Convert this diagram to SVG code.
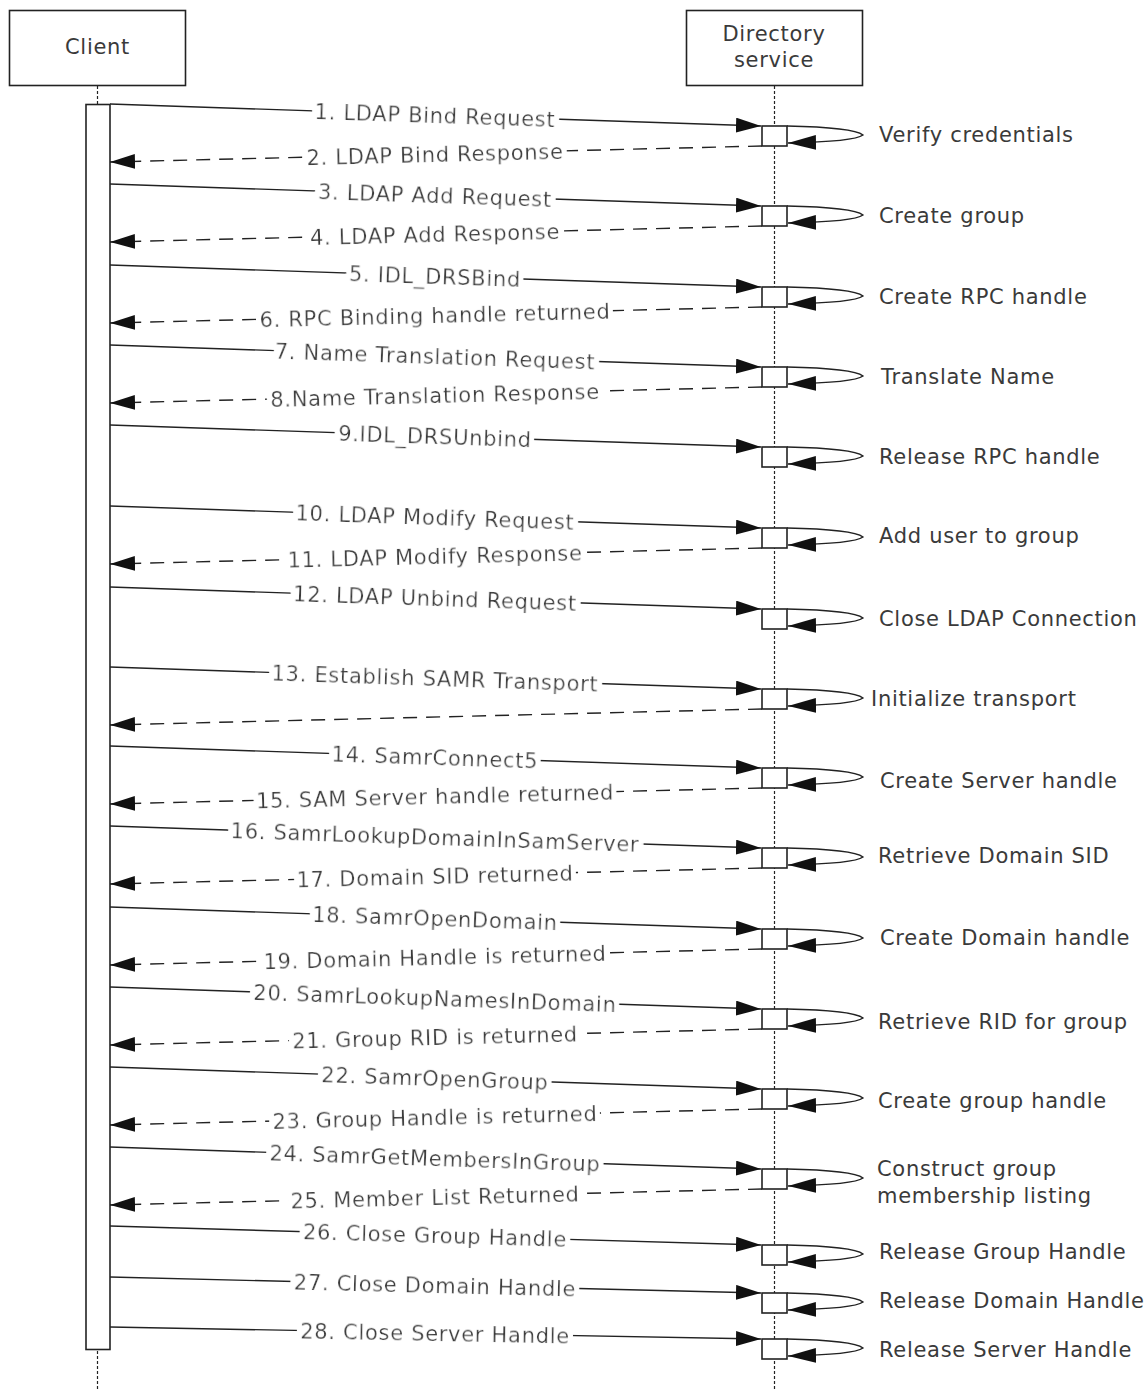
<svg xmlns="http://www.w3.org/2000/svg" width="1147" height="1389" viewBox="0 0 1147 1389">
<style>
.t{font-family:"DejaVu Sans",Verdana,sans-serif;font-size:21px;letter-spacing:0.7px;fill:#3a3a3a}
.c{text-anchor:middle}
.lbl{text-anchor:middle;filter:url(#bg)}
.ln{stroke:#222;stroke-width:1.4;fill:none}
.d{stroke-dasharray:14 9}
.life{stroke:#222;stroke-width:1.2;stroke-dasharray:3 2;fill:none}
.box{fill:#fff;stroke:#222;stroke-width:1.6}
.act{fill:#fff;stroke:#222;stroke-width:1.6}
</style>
<defs>
<filter id="bg" x="-20%" y="-100%" width="140%" height="300%">
<feMorphology in="SourceAlpha" operator="dilate" radius="16 12" result="d1"/>
<feMorphology in="d1" operator="erode" radius="11 7" result="d"/>
<feFlood flood-color="#fff"/>
<feComposite in2="d" operator="in"/>
<feMerge><feMergeNode/><feMergeNode in="SourceGraphic"/></feMerge>
</filter>
<marker id="ah" markerUnits="userSpaceOnUse" markerWidth="26" markerHeight="16" refX="25" refY="7.5" orient="auto">
<path d="M0,0 L25,7.5 L0,15 z" fill="#111"/>
</marker>
<marker id="lh" markerUnits="userSpaceOnUse" markerWidth="29" markerHeight="16" refX="28" refY="7.5" orient="auto">
<path d="M0,0 L28,7.5 L0,15 z" fill="#111"/>
</marker>
</defs>
<rect width="1147" height="1389" fill="#fff"/>

<g id="client">
<rect class="box" x="9.5" y="10.5" width="176" height="75"/>
<text class="t c" x="97.5" y="53.5">Client</text>
<line class="life" x1="97.5" y1="86" x2="97.5" y2="1389"/>
<rect class="act" x="86" y="104.5" width="24" height="1245"/>
</g>

<g id="directory">
<rect class="box" x="686.5" y="10.5" width="176" height="75"/>
<text class="t c" x="774" y="40.5">Directory</text>
<text class="t c" x="774" y="66.5">service</text>
<line class="life" x1="774.5" y1="86" x2="774.5" y2="1389"/>
</g>

<g id="connectors">
<!-- row 0 -->
<path class="ln" d="M110,104 L761,126" marker-end="url(#ah)"/>
<text class="t lbl" x="435" y="122.5" transform="rotate(1.94 435 115)">1. LDAP Bind Request</text>
<path class="ln d" d="M762,146 L110,162" marker-end="url(#ah)"/>
<text class="t lbl" x="435" y="161.5" transform="rotate(-1.41 435 154)">2. LDAP Bind Response</text>
<!-- row 1 -->
<path class="ln" d="M110,184 L761,206" marker-end="url(#ah)"/>
<text class="t lbl" x="435" y="202.5" transform="rotate(1.94 435 195)">3. LDAP Add Request</text>
<path class="ln d" d="M762,226 L110,242" marker-end="url(#ah)"/>
<text class="t lbl" x="435" y="241.5" transform="rotate(-1.41 435 234)">4. LDAP Add Response</text>
<!-- row 2 -->
<path class="ln" d="M110,265 L761,287" marker-end="url(#ah)"/>
<text class="t lbl" x="435" y="283.5" transform="rotate(1.94 435 276)">5. IDL_DRSBind</text>
<path class="ln d" d="M762,307 L110,323" marker-end="url(#ah)"/>
<text class="t lbl" x="435" y="322.5" transform="rotate(-1.41 435 315)">6. RPC Binding handle returned</text>
<!-- row 3 -->
<path class="ln" d="M110,345 L761,367" marker-end="url(#ah)"/>
<text class="t lbl" x="435" y="363.5" transform="rotate(1.94 435 356)">7. Name Translation Request</text>
<path class="ln d" d="M762,387 L110,403" marker-end="url(#ah)"/>
<text class="t lbl" x="435" y="402.5" transform="rotate(-1.41 435 395)">8.Name Translation Response</text>
<!-- row 4 -->
<path class="ln" d="M110,425 L761,447" marker-end="url(#ah)"/>
<text class="t lbl" x="435" y="443.5" transform="rotate(1.94 435 436)">9.IDL_DRSUnbind</text>
<!-- row 5 -->
<path class="ln" d="M110,506 L761,528" marker-end="url(#ah)"/>
<text class="t lbl" x="435" y="524.5" transform="rotate(1.94 435 517)">10. LDAP Modify Request</text>
<path class="ln d" d="M762,548 L110,564" marker-end="url(#ah)"/>
<text class="t lbl" x="435" y="563.5" transform="rotate(-1.41 435 556)">11. LDAP Modify Response</text>
<!-- row 6 -->
<path class="ln" d="M110,587 L761,609" marker-end="url(#ah)"/>
<text class="t lbl" x="435" y="605.5" transform="rotate(1.94 435 598)">12. LDAP Unbind Request</text>
<!-- row 7 -->
<path class="ln" d="M110,667 L761,689" marker-end="url(#ah)"/>
<text class="t lbl" x="435" y="685.5" transform="rotate(1.94 435 678)">13. Establish SAMR Transport</text>
<path class="ln d" d="M762,709 L110,725" marker-end="url(#ah)"/>
<!-- row 8 -->
<path class="ln" d="M110,746 L761,768" marker-end="url(#ah)"/>
<text class="t lbl" x="435" y="764.5" transform="rotate(1.94 435 757)">14. SamrConnect5</text>
<path class="ln d" d="M762,788 L110,804" marker-end="url(#ah)"/>
<text class="t lbl" x="435" y="803.5" transform="rotate(-1.41 435 796)">15. SAM Server handle returned</text>
<!-- row 9 -->
<path class="ln" d="M110,826 L761,848" marker-end="url(#ah)"/>
<text class="t lbl" x="435" y="844.5" transform="rotate(1.94 435 837)">16. SamrLookupDomainInSamServer</text>
<path class="ln d" d="M762,868 L110,884" marker-end="url(#ah)"/>
<text class="t lbl" x="435" y="883.5" transform="rotate(-1.41 435 876)">17. Domain SID returned</text>
<!-- row 10 -->
<path class="ln" d="M110,907 L761,929" marker-end="url(#ah)"/>
<text class="t lbl" x="435" y="925.5" transform="rotate(1.94 435 918)">18. SamrOpenDomain</text>
<path class="ln d" d="M762,949 L110,965" marker-end="url(#ah)"/>
<text class="t lbl" x="435" y="964.5" transform="rotate(-1.41 435 957)">19. Domain Handle is returned</text>
<!-- row 11 -->
<path class="ln" d="M110,987 L761,1009" marker-end="url(#ah)"/>
<text class="t lbl" x="435" y="1005.5" transform="rotate(1.94 435 998)">20. SamrLookupNamesInDomain</text>
<path class="ln d" d="M762,1029 L110,1045" marker-end="url(#ah)"/>
<text class="t lbl" x="435" y="1044.5" transform="rotate(-1.41 435 1037)">21. Group RID is returned</text>
<!-- row 12 -->
<path class="ln" d="M110,1067 L761,1089" marker-end="url(#ah)"/>
<text class="t lbl" x="435" y="1085.5" transform="rotate(1.94 435 1078)">22. SamrOpenGroup</text>
<path class="ln d" d="M762,1109 L110,1125" marker-end="url(#ah)"/>
<text class="t lbl" x="435" y="1124.5" transform="rotate(-1.41 435 1117)">23. Group Handle is returned</text>
<!-- row 13 -->
<path class="ln" d="M110,1147 L761,1169" marker-end="url(#ah)"/>
<text class="t lbl" x="435" y="1165.5" transform="rotate(1.94 435 1158)">24. SamrGetMembersInGroup</text>
<path class="ln d" d="M762,1189 L110,1205" marker-end="url(#ah)"/>
<text class="t lbl" x="435" y="1204.5" transform="rotate(-1.41 435 1197)">25. Member List Returned</text>
<!-- row 14 -->
<path class="ln" d="M110,1226 L761,1245" marker-end="url(#ah)"/>
<text class="t lbl" x="435" y="1243" transform="rotate(1.67 435 1235.5)">26. Close Group Handle</text>
<!-- row 15 -->
<path class="ln" d="M110,1277 L761,1293" marker-end="url(#ah)"/>
<text class="t lbl" x="435" y="1292.5" transform="rotate(1.41 435 1285)">27. Close Domain Handle</text>
<!-- row 16 -->
<path class="ln" d="M110,1327 L761,1339" marker-end="url(#ah)"/>
<text class="t lbl" x="435" y="1340.5" transform="rotate(1.06 435 1333)">28. Close Server Handle</text>

<!-- self loops -->
<path class="ln" d="M787,126 C835,127 858,131 863,135 C858,139 835,142 788,143" marker-end="url(#lh)"/>
<path class="ln" d="M787,206 C835,207 858,211 863,215 C858,219 835,222 788,223" marker-end="url(#lh)"/>
<path class="ln" d="M787,287 C835,288 858,292 863,296 C858,300 835,303 788,304" marker-end="url(#lh)"/>
<path class="ln" d="M787,367 C835,368 858,372 863,376 C858,380 835,383 788,384" marker-end="url(#lh)"/>
<path class="ln" d="M787,447 C835,448 858,452 863,456 C858,460 835,463 788,464" marker-end="url(#lh)"/>
<path class="ln" d="M787,528 C835,529 858,533 863,537 C858,541 835,544 788,545" marker-end="url(#lh)"/>
<path class="ln" d="M787,609 C835,610 858,614 863,618 C858,622 835,625 788,626" marker-end="url(#lh)"/>
<path class="ln" d="M787,689 C835,690 858,694 863,698 C858,702 835,705 788,706" marker-end="url(#lh)"/>
<path class="ln" d="M787,768 C835,769 858,773 863,777 C858,781 835,784 788,785" marker-end="url(#lh)"/>
<path class="ln" d="M787,848 C835,849 858,853 863,857 C858,861 835,864 788,865" marker-end="url(#lh)"/>
<path class="ln" d="M787,929 C835,930 858,934 863,938 C858,942 835,945 788,946" marker-end="url(#lh)"/>
<path class="ln" d="M787,1009 C835,1010 858,1014 863,1018 C858,1022 835,1025 788,1026" marker-end="url(#lh)"/>
<path class="ln" d="M787,1089 C835,1090 858,1094 863,1098 C858,1102 835,1105 788,1106" marker-end="url(#lh)"/>
<path class="ln" d="M787,1169 C835,1170 858,1174 863,1178 C858,1182 835,1185 788,1186" marker-end="url(#lh)"/>
<path class="ln" d="M787,1245 C835,1246 858,1250 863,1254 C858,1258 835,1261 788,1262" marker-end="url(#lh)"/>
<path class="ln" d="M787,1293 C835,1294 858,1298 863,1302 C858,1306 835,1309 788,1310" marker-end="url(#lh)"/>
<path class="ln" d="M787,1339 C835,1340 858,1344 863,1348 C858,1352 835,1355 788,1356" marker-end="url(#lh)"/>
</g>

<g id="activations">
<rect class="act" x="762" y="126" width="25" height="20"/>
<rect class="act" x="762" y="206" width="25" height="20"/>
<rect class="act" x="762" y="287" width="25" height="20"/>
<rect class="act" x="762" y="367" width="25" height="20"/>
<rect class="act" x="762" y="447" width="25" height="20"/>
<rect class="act" x="762" y="528" width="25" height="20"/>
<rect class="act" x="762" y="609" width="25" height="20"/>
<rect class="act" x="762" y="689" width="25" height="20"/>
<rect class="act" x="762" y="768" width="25" height="20"/>
<rect class="act" x="762" y="848" width="25" height="20"/>
<rect class="act" x="762" y="929" width="25" height="20"/>
<rect class="act" x="762" y="1009" width="25" height="20"/>
<rect class="act" x="762" y="1089" width="25" height="20"/>
<rect class="act" x="762" y="1169" width="25" height="20"/>
<rect class="act" x="762" y="1245" width="25" height="20"/>
<rect class="act" x="762" y="1293" width="25" height="20"/>
<rect class="act" x="762" y="1339" width="25" height="20"/>
</g>

<g id="notes">
<text class="t" x="879" y="141.5">Verify credentials</text>
<text class="t" x="879" y="223">Create group</text>
<text class="t" x="879" y="304">Create RPC handle</text>
<text class="t" x="881" y="384">Translate Name</text>
<text class="t" x="879" y="464">Release RPC handle</text>
<text class="t" x="879" y="543">Add user to group</text>
<text class="t" x="879" y="626">Close LDAP Connection</text>
<text class="t" x="871" y="706">Initialize transport</text>
<text class="t" x="880" y="788">Create Server handle</text>
<text class="t" x="878" y="863">Retrieve Domain SID</text>
<text class="t" x="880" y="945">Create Domain handle</text>
<text class="t" x="878" y="1029">Retrieve RID for group</text>
<text class="t" x="878" y="1108">Create group handle</text>
<text class="t" x="877" y="1176">Construct group</text>
<text class="t" x="877" y="1203">membership listing</text>
<text class="t" x="879" y="1259">Release Group Handle</text>
<text class="t" x="879" y="1308">Release Domain Handle</text>
<text class="t" x="879" y="1357">Release Server Handle</text>
</g>
</svg>
